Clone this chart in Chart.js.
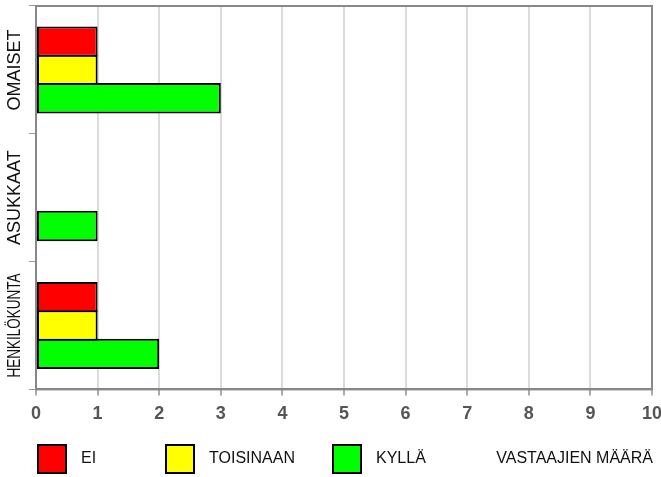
<!DOCTYPE html>
<html>
<head>
<meta charset="utf-8">
<script src="https://cdn.jsdelivr.net/npm/chart.js@4/dist/chart.umd.min.js"></script>
<style>
  html, body { margin: 0; padding: 0; background: #fff; }
  #wrap { width: 661px; height: 477px; }
</style>
</head>
<body>
<div id="wrap"><canvas id="vastaukset"></canvas></div>
<script>
// Datat
const ryhmat = ['OMAISET', 'ASUKKAAT', 'HENKILÖKUNTA'];
const ei = [1, 0, 1];
const toisinaan = [1, 0, 1];
const kylla = [3, 1, 2];
const sarjat = ['EI', 'TOISINAAN', 'KYLLÄ'];
const varit = ['#ff0000', '#ffff00', '#00ff00'];
const akseliOtsikko = 'VASTAAJIEN MÄÄRÄ';
const xMin = 0;
const xMax = 10;

const fontti = '"Liberation Sans", Arial, sans-serif';

// Kehys kaavioalueen ympärille
const kehys = {
  id: 'kehys',
  beforeDatasetsDraw(chart) {
    const { ctx, chartArea: a } = chart;
    ctx.save();
    ctx.strokeStyle = '#888';
    ctx.lineWidth = 2;
    ctx.strokeRect(a.left, a.top, a.right - a.left, a.bottom - a.top);
    ctx.restore();
  }
};

// Pystysuorat ryhmänimet vasemmalle
const ryhmaNimet = {
  id: 'ryhmaNimet',
  afterDraw(chart) {
    const ctx = chart.ctx;
    const y = chart.scales.y;
    ctx.save();
    ctx.font = '18px ' + fontti;
    ctx.fillStyle = '#111';
    ctx.textAlign = 'center';
    ctx.textBaseline = 'alphabetic';
    ryhmat.forEach((nimi, i) => {
      const py = y.getPixelForValue(i);
      const w = ctx.measureText(nimi).width;
      const maxW = 104;
      ctx.save();
      ctx.translate(20, py);
      ctx.rotate(-Math.PI / 2);
      if (w > maxW) ctx.scale(maxW / w, 1);
      ctx.fillText(nimi, 0, 0);
      ctx.restore();
    });
    ctx.restore();
  }
};

// Selite alareunaan
const selite = {
  id: 'selite',
  afterDraw(chart) {
    const { ctx, chartArea: a } = chart;
    const laatikkoX = [a.left + 1, a.left + 129, a.left + 296];
    const yKeski = 459;
    const koko = 30;
    ctx.save();
    ctx.font = '16px ' + fontti;
    ctx.textBaseline = 'middle';
    chart.data.datasets.forEach((ds, i) => {
      const x = laatikkoX[i];
      ctx.fillStyle = ds.backgroundColor;
      ctx.fillRect(x, yKeski - koko / 2, koko, koko);
      ctx.strokeStyle = '#000';
      ctx.lineWidth = 2;
      ctx.strokeRect(x + 1, yKeski - koko / 2 + 1, koko - 2, koko - 2);
      ctx.fillStyle = '#111';
      ctx.textAlign = 'left';
      ctx.fillText(ds.label, x + koko + 14, yKeski);
    });
    ctx.fillStyle = '#111';
    ctx.textAlign = 'right';
    ctx.fillText(akseliOtsikko, 653, yKeski);
    ctx.restore();
  }
};

const ctx = document.getElementById('vastaukset').getContext('2d');
const vastausKaavio = new Chart(ctx, {
  type: 'bar',
  data: {
    labels: ryhmat,
    datasets: [ei, toisinaan, kylla].map((arvot, i) => ({
      label: sarjat[i],
      data: arvot,
      backgroundColor: varit[i],
      borderColor: '#000',
      borderWidth: 2,
      borderSkipped: false,
      categoryPercentage: 0.665,
      barPercentage: 1.07
    }))
  },
  options: {
    indexAxis: 'y',
    responsive: true,
    maintainAspectRatio: false,
    animation: false,
    layout: { padding: { top: 6, right: 0, bottom: 44, left: 0 } },
    plugins: {
      legend: { display: false },
      tooltip: { enabled: false }
    },
    scales: {
      x: {
        min: xMin,
        max: xMax,
        ticks: {
          stepSize: 1,
          color: '#555',
          padding: 8,
          font: { family: fontti, size: 18, weight: 'bold' }
        },
        grid: { color: '#dcdcdc', lineWidth: 2, tickLength: 6, tickColor: '#aaa' },
        border: { color: '#888', width: 2 },
        afterFit(s) { s.paddingRight = 9; }
      },
      y: {
        offset: true,
        ticks: { display: false },
        grid: { offset: true, drawOnChartArea: false, tickLength: 7, color: '#999' },
        border: { color: '#888', width: 2 },
        afterFit(s) { s.width = 36; }
      }
    }
  },
  plugins: [kehys, ryhmaNimet, selite]
});
</script>
</body>
</html>
